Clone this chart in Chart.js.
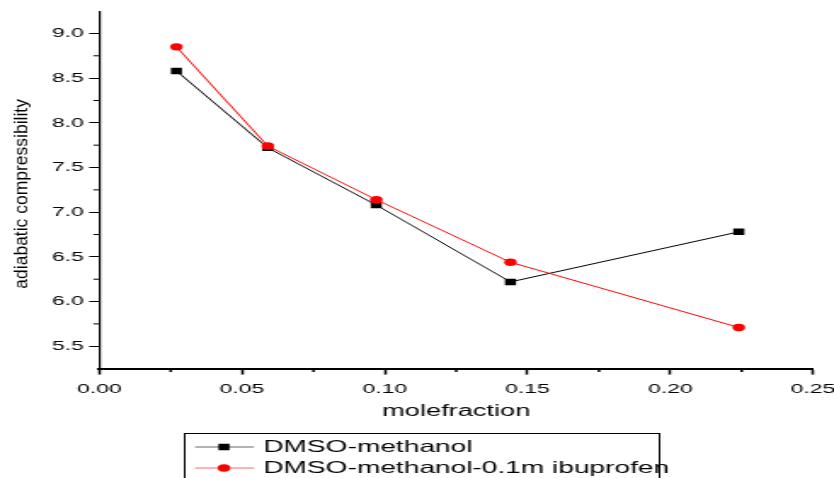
<!DOCTYPE html>
<html>
<head>
<meta charset="utf-8">
<script src="https://cdn.jsdelivr.net/npm/chart.js@4"></script>
<style>
html,body{margin:0;padding:0;background:#fff;}
canvas{display:block;}
</style>
</head>
<body>
<!-- the original figure is stretched sideways, so the canvas is drawn narrow and widened by css -->
<canvas id="grafico" width="490" height="478" style="width:834px;height:478px"></canvas>
<script>

const moleFraction=[0.027,0.059,0.097,0.144,0.224];
const dmsoMethanol=[8.58,7.72,7.08,6.22,6.78];
const dmsoIbuprofen=[8.85,7.74,7.14,6.44,5.71];

const seriesLabels=["DMSO-methanol","DMSO-methanol-0.1m ibuprofen"];

const xTickValues=[0,0.05,0.10,0.15,0.20,0.25];
const yTickValues=[5.5,6.0,6.5,7.0,7.5,8.0,8.5,9.0];
const xMinorTicks=[0.025,0.075,0.125,0.175,0.225];
const yMinorTicks=[5.75,6.25,6.75,7.25,7.75,8.25,8.75];

const xTitle="molefraction";
const yTitle="adiabatic compressibility";

const STRETCH=834/490;
const FONT='"Liberation Sans", Arial, sans-serif';

Chart.defaults.font.family=FONT;
Chart.defaults.color="#000";

///////////////////////////////////////////////////////////////

function pontos(ys){
    return moleFraction.map((x,i)=>({x:x,y:ys[i]}));
}

function marcador(ctx,ds,x,y){
    Chart.helpers.drawPoint(ctx,{
        pointStyle:ds.pointStyle,
        radius:ds.pointRadius,
        borderWidth:0
    },x,y);
}

///////////////////////////////////////////////////////////////

const minorTicks={
    id:"minorTicks",
    afterDraw(chart){
        const {ctx,chartArea,scales}=chart;
        ctx.save();
        ctx.strokeStyle="#000";

        ctx.lineWidth=1.5;
        xMinorTicks.forEach(v=>{
            const px=scales.x.getPixelForValue(v);
            ctx.beginPath();
            ctx.moveTo(px,chartArea.bottom);
            ctx.lineTo(px,chartArea.bottom+3.5);
            ctx.stroke();
        });

        ctx.lineWidth=1;
        yMinorTicks.forEach(v=>{
            const py=scales.y.getPixelForValue(v);
            ctx.beginPath();
            ctx.moveTo(chartArea.left,py);
            ctx.lineTo(chartArea.left-3.5,py);
            ctx.stroke();
        });

        ctx.restore();
    }
};

// y title is not stretched in the original, so undo the css stretch here
const yTitlePlugin={
    id:"yTitlePlugin",
    afterDraw(chart){
        const {ctx,chartArea}=chart;
        ctx.save();
        ctx.translate(22.5/STRETCH,(chartArea.top+chartArea.bottom)/2+4);
        ctx.scale(1/STRETCH,1);
        ctx.rotate(-Math.PI/2);
        ctx.font="17.5px "+FONT;
        ctx.fillStyle="#000";
        ctx.textAlign="center";
        ctx.textBaseline="middle";
        ctx.fillText(yTitle,0,0);
        ctx.restore();
    }
};

const boxLegend={
    id:"boxLegend",
    afterDraw(chart){
        const ctx=chart.ctx;
        const rows=[447,468];
        ctx.save();

        ctx.strokeStyle="#000";
        ctx.lineWidth=1;
        ctx.strokeRect(108.5,433.5,279,80);

        chart.data.datasets.forEach((ds,i)=>{
            const y=rows[i];
            ctx.strokeStyle=ds.borderColor;
            ctx.globalAlpha=0.6;
            ctx.lineWidth=1;
            ctx.beginPath();
            ctx.moveTo(114.6,y);
            ctx.lineTo(149.2,y);
            ctx.stroke();
            ctx.globalAlpha=1;

            ctx.fillStyle=ds.pointBackgroundColor;
            marcador(ctx,ds,131.6,y);

            ctx.fillStyle="#000";
            ctx.font="16.5px "+FONT;
            ctx.textAlign="left";
            ctx.textBaseline="middle";
            ctx.fillText(ds.label,154.7,y+0.5);
        });

        ctx.restore();
    }
};

///////////////////////////////////////////////////////////////

const ctx=document
    .getElementById("grafico")
    .getContext("2d");

const grafico=new Chart(ctx,{

    type:"line",

    data:{

        datasets:[
            {
                label:seriesLabels[0],
                data:pontos(dmsoMethanol),
                borderColor:"#000000",
                borderWidth:1,
                pointStyle:"rect",
                pointRadius:4.6,
                pointBackgroundColor:"#000000",
                pointBorderWidth:0,
                tension:0,
                order:1
            },
            {
                label:seriesLabels[1],
                data:pontos(dmsoIbuprofen),
                borderColor:"#ff0000",
                borderWidth:1,
                pointStyle:"circle",
                pointRadius:3.7,
                pointBackgroundColor:"#ff0000",
                pointBorderWidth:0,
                tension:0,
                order:0
            }
        ]

    },

    options:{

        responsive:false,

        animation:false,

        layout:{
            padding:{top:10,right:0,bottom:50,left:27.6}
        },

        plugins:{
            legend:{display:false},
            tooltip:{enabled:false}
        },

        scales:{

            x:{
                type:"linear",
                min:0,
                max:0.25,
                afterBuildTicks:s=>{ s.ticks=xTickValues.map(v=>({value:v})); },
                afterFit:s=>{ s.paddingRight=12.3; },
                ticks:{
                    padding:7,
                    maxRotation:0,
                    font:{size:13.5},
                    callback:v=>v.toFixed(2)
                },
                grid:{
                    drawOnChartArea:false,
                    drawTicks:true,
                    tickLength:6,
                    tickWidth:1.5,
                    tickColor:"#000"
                },
                border:{color:"#000",width:2},
                title:{
                    display:true,
                    text:xTitle,
                    font:{size:16},
                    padding:{top:-3,bottom:7}
                }
            },

            y:{
                type:"linear",
                min:5.25,
                max:9.25,
                afterBuildTicks:s=>{ s.ticks=yTickValues.map(v=>({value:v})); },
                ticks:{
                    padding:3,
                    font:{size:13.5},
                    callback:v=>v.toFixed(1)
                },
                grid:{
                    drawOnChartArea:false,
                    drawTicks:true,
                    tickLength:6,
                    tickWidth:1,
                    tickColor:"#000"
                },
                border:{color:"#000",width:1.2}
            }

        }

    },

    plugins:[minorTicks,yTitlePlugin,boxLegend]

});

</script>
</body>
</html>
